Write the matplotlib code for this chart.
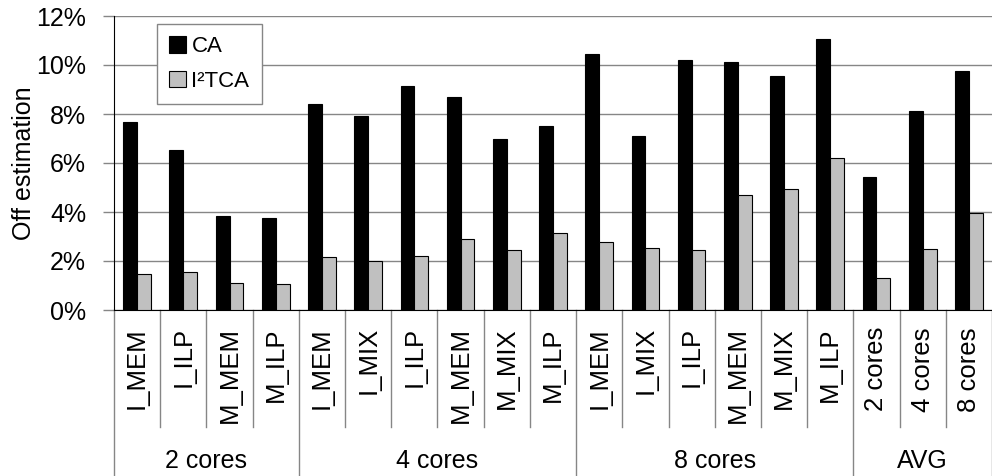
import numpy as np
import matplotlib
matplotlib.use("Agg")
import matplotlib.pyplot as plt

plt.rcParams['font.family'] = ['Liberation Sans', 'DejaVu Sans']

# Off estimation per workload (fraction)
labels = ["I_MEM", "I_ILP", "M_MEM", "M_ILP",
          "I_MEM", "I_MIX", "I_ILP", "M_MEM", "M_MIX", "M_ILP",
          "I_MEM", "I_MIX", "I_ILP", "M_MEM", "M_MIX", "M_ILP",
          "2 cores", "4 cores", "8 cores"]
groups = ["2 cores", "4 cores", "8 cores", "AVG"]
group_sizes = [4, 6, 6, 3]

ca = [7.67, 6.52, 3.84, 3.77,
      8.39, 7.92, 9.16, 8.68, 6.97, 7.51,
      10.44, 7.12, 10.19, 10.14, 9.56, 11.05,
      5.44, 8.11, 9.74]
i2tca = [1.48, 1.54, 1.09, 1.07,
         2.18, 2.00, 2.19, 2.88, 2.44, 3.16,
         2.79, 2.52, 2.46, 4.71, 4.94, 6.22,
         1.29, 2.48, 3.95]

ca = np.array(ca) / 100
i2tca = np.array(i2tca) / 100
x = np.arange(len(labels))

fig = plt.figure(figsize=(9.92, 4.76), dpi=100)
W, H = 992, 476
left, top, bottom = 114, 16, 310
ax = fig.add_axes([left / W, 1 - bottom / H, (W - left) / W, (bottom - top) / H])

bw = 0.30
ax.bar(x - bw / 2, ca, bw, color='black', edgecolor='black', linewidth=0.8, label='CA', zorder=3)
ax.bar(x + bw / 2, i2tca, bw, color='#c0c0c0', edgecolor='black', linewidth=0.8, label='I²TCA', zorder=3)

ax.set_xlim(-0.5, len(labels) - 0.5)
ax.set_ylim(0, 0.12)
ax.set_yticks(np.arange(0, 0.121, 0.02))
ax.set_yticklabels([f"{int(round(v * 100))}%" for v in np.arange(0, 0.121, 0.02)], fontsize=18)
ax.yaxis.grid(True, color='#868686', linewidth=1, zorder=0)
ax.set_axisbelow(True)
ax.tick_params(axis='y', length=8, width=1, color='#868686', pad=12)
ax.set_xticks([])
for s in ['top', 'right']:
    ax.spines[s].set_visible(False)
ax.spines['left'].set_color('black')
ax.spines['bottom'].set_color('black')
ax.set_ylabel("Off estimation", fontsize=18, labelpad=0)

# category axis drawn below the plot
trans = ax.get_xaxis_transform()
ah = bottom - top
short_end = (bottom - 427) / ah
long_end = (bottom - H) / ah
bounds = np.cumsum([0] + group_sizes)
for b in range(len(labels) + 1):
    xb = b - 0.5
    yend = long_end if b in bounds else short_end
    ax.plot([xb, xb], [0, yend], color='#868686', linewidth=1,
            transform=trans, clip_on=False)
for i, lab in enumerate(labels):
    ax.text(i, (bottom - 327) / ah, lab, rotation=90, ha='center', va='top',
            fontsize=18.5, transform=trans)
for g, name in enumerate(groups):
    xc = (bounds[g] + bounds[g + 1] - 1) / 2
    ax.text(xc, (bottom - 461) / ah, name, ha='center', va='center',
            fontsize=18, transform=trans)

leg = ax.legend(loc='upper left', bbox_to_anchor=((157 - left) / (W - left), (bottom - 24) / ah),
                borderaxespad=0, fontsize=16, fancybox=False, framealpha=1,
                edgecolor='#868686', handlelength=0.75, handleheight=0.75,
                handletextpad=0.25, labelspacing=0.6, borderpad=0.55)
leg.get_frame().set_linewidth(1)

fig.savefig("out.png", dpi=100)
